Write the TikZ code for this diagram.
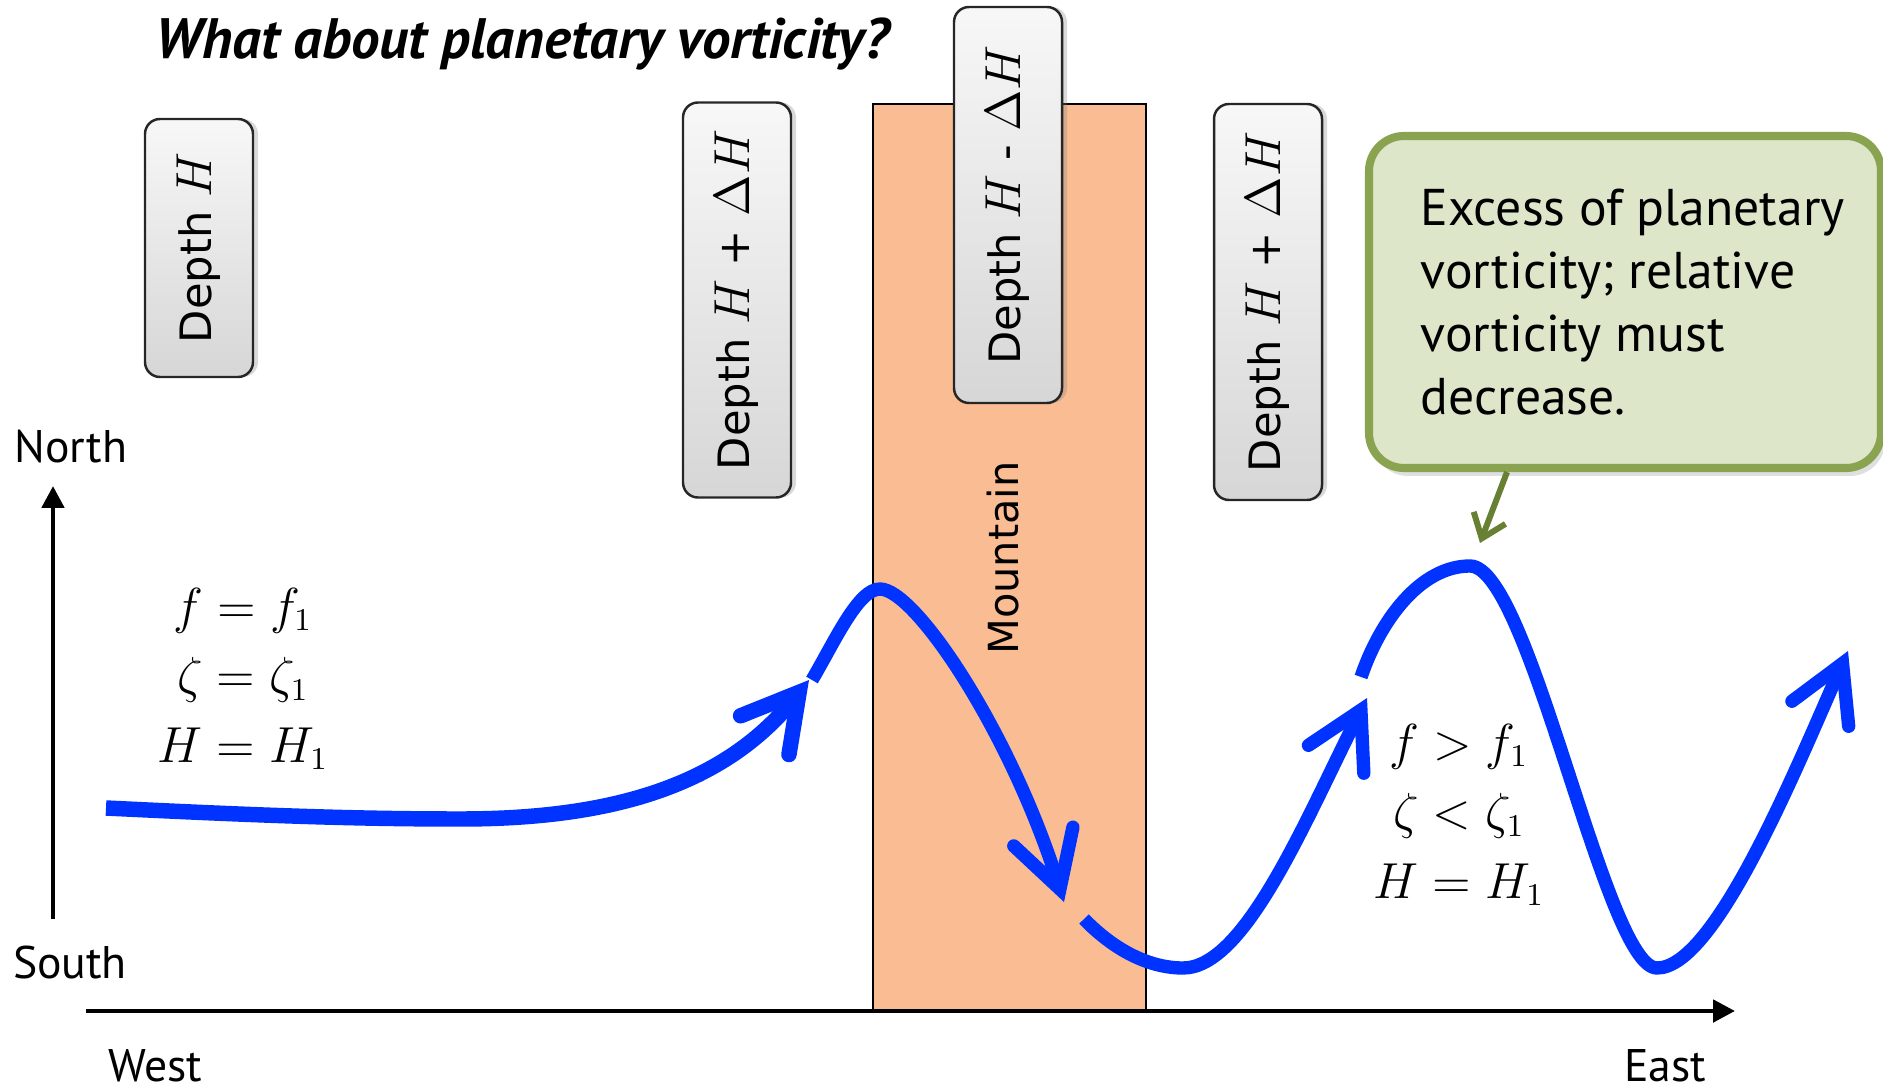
\documentclass[tikz,border=0pt]{standalone}
\usepackage{fontspec}
\setmainfont{PT Sans}
\newfontfamily\boxfont{DejaVu Sans}
\usetikzlibrary{arrows.meta,shadows}

\definecolor{flowblue}{RGB}{0,51,255}
\definecolor{peach}{RGB}{250,188,146}
\definecolor{notefill}{RGB}{221,230,200}
\definecolor{noteline}{RGB}{138,163,80}
\definecolor{notearrow}{RGB}{104,128,52}

\newcommand{\depthmath}[1]{{\fontsize{15}{15}\selectfont$#1$}}

\begin{document}
\begin{tikzpicture}[
  depthbox/.style={draw=black!85, line width=0.7pt, rounded corners=1.5mm, rotate=90,
    top color=gray!6, bottom color=gray!32, minimum height=10.8mm, inner sep=0pt,
    font=\boxfont\fontsize{12.3}{15}\selectfont,
    drop shadow={shadow xshift=0.5mm, shadow yshift=0mm, opacity=0.3}},
  compass/.style={inner sep=1pt, font=\fontsize{13}{15}\selectfont},
  axis/.style={line width=1.4pt, -{Triangle[length=2.2mm,width=2.2mm]}},
  flow/.style={draw=flowblue, line width=3.8pt,
    -{Straight Barb[length=5.5mm,width=6.2mm,line cap=round]}},
  vals/.style={align=center, font=\fontsize{13.5}{19.8}\selectfont},
  note/.style={draw=noteline, line width=2.3pt, fill=notefill, rounded corners=3.5mm,
    drop shadow={shadow xshift=0.4mm, shadow yshift=-0.8mm, opacity=0.25}},
  pointer/.style={draw=notearrow, line width=1.7pt,
    -{Straight Barb[length=2.2mm,width=3.4mm]}}
]
\useasboundingbox (0,0) rectangle (18.83,10.91);

% mountain and axes
\node[draw=black, line width=0.5pt, fill=peach, minimum width=27.3mm, minimum height=90.7mm,
  inner sep=0pt] (mountain) at (10.095,5.335) {};
\node[rotate=90, font=\boxfont\fontsize{11.8}{14}\selectfont] (mtlabel) at (10.03,5.33) {Mountain};

\coordinate (xstart) at (0.86,0.80);
\coordinate (xend) at (17.35,0.80);
\coordinate (ystart) at (0.53,1.72);
\coordinate (yend) at (0.53,6.05);
\draw[axis] (xstart) -- (xend);
\draw[axis] (ystart) -- (yend);

\node[compass] (north) at (0.71,6.44) {North};
\node[compass] (south) at (0.70,1.28) {South};
\node[compass] (west) at (1.55,0.25) {West};
\node[compass] (east) at (16.65,0.25) {East};

\node[font=\bfseries\itshape\fontsize{16.2}{19}\selectfont] (title) at (5.22,10.47)
  {What about planetary vorticity?};

% depth boxes
\node[depthbox, minimum width=25.8mm] (depth1) at (1.99,8.43) {Depth \depthmath{H}};
\node[depthbox, minimum width=39.5mm] (depth2) at (7.37,7.91)
  {Depth \depthmath{H} + \depthmath{\Delta H}};
\node[depthbox, minimum width=39.6mm] (depth3) at (10.08,8.86)
  {Depth \depthmath{H} - \depthmath{\Delta H}};
\node[depthbox, minimum width=39.6mm] (depth4) at (12.68,7.89)
  {Depth \depthmath{H} + \depthmath{\Delta H}};

\node[vals] (before) at (2.43,4.12) {$f = f_1$\\$\zeta = \zeta_1$\\$H = H_1$};
\node[vals] (after) at (14.59,2.76) {$f > f_1$\\$\zeta < \zeta_1$\\$H = H_1$};

% the flow
\draw[flow, line width=4.4pt] (1.06,2.83) .. controls (2.5,2.76) and (3.5,2.72) .. (4.6,2.72)
  .. controls (6.0,2.72) and (7.2,3.0) .. (8.09,4.11);
\draw[flow] (8.12,4.11) .. controls (8.35,4.5) and (8.58,5.02) .. (8.80,5.02)
  .. controls (9.15,5.02) and (10.1,3.6) .. (10.64,1.89);
\draw[flow] (10.84,1.72) .. controls (11.15,1.4) and (11.5,1.23) .. (11.83,1.23)
  .. controls (12.45,1.23) and (13.05,2.7) .. (13.67,3.93);
\draw[flow] (13.61,4.14) .. controls (13.8,4.7) and (14.2,5.25) .. (14.7,5.25)
  .. controls (15.3,5.25) and (16.05,1.23) .. (16.57,1.23)
  .. controls (17.15,1.23) and (17.95,3.2) .. (18.48,4.40);

% callout
\node[note, minimum width=51.2mm, minimum height=33.2mm] (note) at (16.25,7.89) {};
\node[anchor=west, align=left, inner sep=0pt, font=\fontsize{14.7}{17.9}\selectfont]
  (notetext) at ([xshift=5.5mm]note.west)
  {Excess of planetary\\vorticity; relative\\vorticity must\\decrease.};
\coordinate (notetip) at (14.80,5.48);
\draw[pointer] ([xshift=-11.8mm]note.south) -- (notetip);

\end{tikzpicture}
\end{document}
